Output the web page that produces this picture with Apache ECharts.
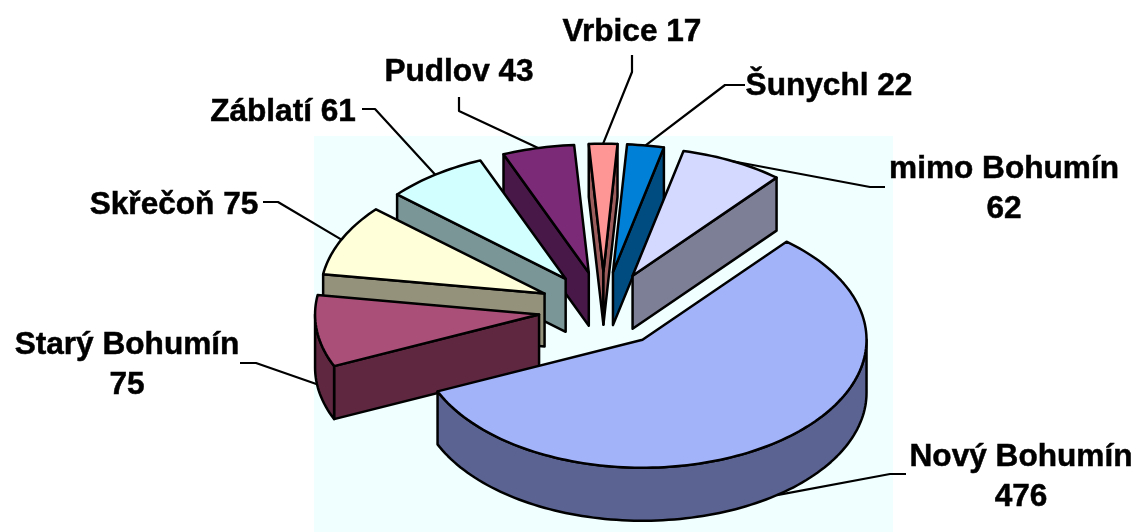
<!DOCTYPE html>
<html><head><meta charset="utf-8">
<style>html,body{margin:0;padding:0;background:#fff;overflow:hidden}#c{width:1137px;height:532px}</style>
<script src="https://cdn.jsdelivr.net/npm/echarts@6/dist/echarts.min.js"></script>
</head><body><div id="c"></div>
<script>
// Data
const categories = ['Nový Bohumín','Starý Bohumín','Skřečoň','Záblatí','Pudlov','Vrbice','Šunychl','mimo Bohumín'];
const values = [476,75,75,61,43,17,22,62];

// Styles
const topColors  = ['#A3B3FA','#AA4F78','#FFFFD9','#D2FFFF','#7B2A78','#FF9696','#0080D6','#D4D9FF'];
const sideColors = ['#5A6392','#5F2840','#95927C','#7A9696','#481848','#9C5C5C','#004C80','#7D7F96'];

// Layout of the pie
const pie = {cx:603.5, cy:309.5, rx:224, ry:128, depth:53, explodeX:65, explodeY:37.8, startDeg:40};
// Label text position and leader knee points (first point nearest the label)
const labelLayout = [
  {x:1021, y:475, wrap:true,  knees:[[906,474],[890,474]]},
  {x:127,  y:363, wrap:true,  knees:[[240,363],[256,363]]},
  {x:174,  y:203, wrap:false, knees:[[263,202],[278,202]]},
  {x:283,  y:110, wrap:false, knees:[[362,109],[375,109]]},
  {x:459,  y:70,  wrap:false, knees:[[459,97],[459,111]]},
  {x:632,  y:30,  wrap:false, knees:[[632,55],[632,72]]},
  {x:829,  y:84,  wrap:false, knees:[[745,85],[725,85]]},
  {x:1004, y:187, wrap:true,  knees:[[885,187],[870,187]]}
];

const total = values.reduce((a,b)=>a+b,0);
const rad = d => d*Math.PI/180;
let acc = pie.startDeg;
const slices = values.map(v=>{
  const a0 = acc, a1 = acc + v/total*360; acc = a1;
  const mid = (a0+a1)/2;
  return {a0,a1,mid,
    ax: pie.cx + pie.explodeX*Math.sin(rad(mid)),
    ay: pie.cy - pie.explodeY*Math.cos(rad(mid))};
});
const depthRank = slices.map((s,i)=>i).sort((p,q)=>slices[p].ay-slices[q].ay);

function onArc(s,deg){ return [s.ax+pie.rx*Math.sin(rad(deg)), s.ay-pie.ry*Math.cos(rad(deg))]; }
function arcPoints(s,from,to){
  const n = Math.max(2,Math.ceil(Math.abs(to-from)/1.5)), pts=[];
  for(let i=0;i<=n;i++) pts.push(onArc(s,from+(to-from)*i/n));
  return pts;
}
const down = p => [p[0],p[1]+pie.depth];
const lineStyle = {stroke:'#000',lineWidth:2.5,lineJoin:'round'};

function renderItem(params, api){
  const i = params.dataIndex, s = slices[i];
  const value = api.value(0);
  const rank = depthRank.indexOf(i)*10;
  const children = [];
  const face = (pts,fill,k)=>children.push({type:'polygon',z2:rank+k,shape:{points:pts},
    style:Object.assign({fill},lineStyle),silent:true});
  const apex = [s.ax,s.ay];
  // cut faces facing the viewer
  if(Math.sin(rad(s.a0))<0){ const p=onArc(s,s.a0); face([apex,p,down(p),down(apex)],sideColors[i],0); }
  if(Math.sin(rad(s.a1))>0){ const p=onArc(s,s.a1); face([apex,p,down(p),down(apex)],sideColors[i],1); }
  // outer rim facing the viewer
  const f=Math.max(s.a0,90), t=Math.min(s.a1,270);
  if(t>f){ const arc=arcPoints(s,f,t); face(arc.concat(arc.slice().reverse().map(down)),sideColors[i],2); }
  // top face
  face([apex].concat(arcPoints(s,s.a0,s.a1)),topColors[i],3);
  // leader line
  const L = labelLayout[i];
  let anchor = onArc(s,s.mid);
  const m = ((s.mid%360)+360)%360;
  if(m>90 && m<270) anchor = down(anchor);
  children.push({type:'polyline',z2:1000,silent:true,shape:{points:L.knees.concat([anchor])},
    style:{fill:null,stroke:'#000',lineWidth:2.2,lineJoin:'round'}});
  // label
  children.push({type:'text',z2:1001,silent:true,x:L.x,y:L.y+2,style:{
    text:categories[i]+(L.wrap?'\n':' ')+value,
    fill:'#000',stroke:'#000',lineWidth:0.5,font:'bold 31.6px "Liberation Sans", Arial, sans-serif',
    align:'center',verticalAlign:'middle',lineHeight:40}});
  return {type:'group',children};
}

const chart = echarts.init(document.getElementById('c'),null,{renderer:'canvas'});
chart.setOption({
  animation:false,
  backgroundColor:'#fff',
  graphic:[{type:'rect',z:-1,silent:true,shape:{x:314,y:136,width:579,height:396},style:{fill:'#F0FFFF'}}],
  series:[{type:'custom',coordinateSystem:'none',silent:true,clip:false,renderItem,
    data:categories.map((name,i)=>({name,value:[values[i]]}))}]
});
</script></body></html>
